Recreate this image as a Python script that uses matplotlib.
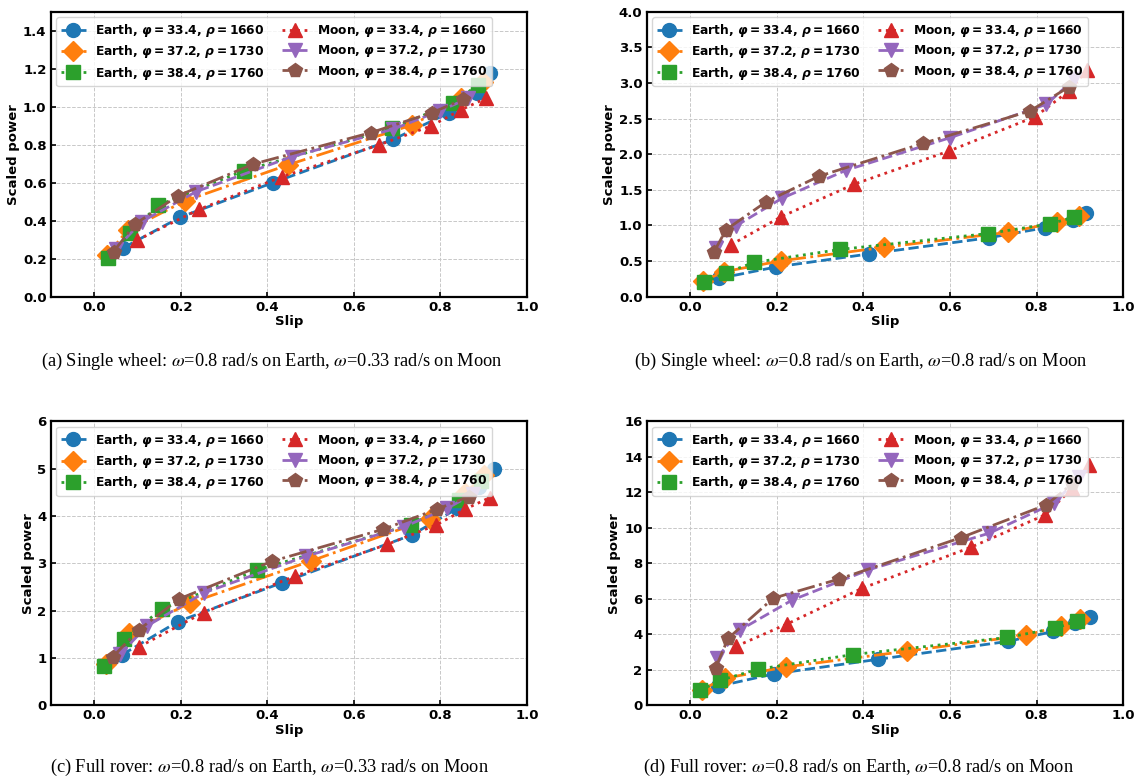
import matplotlib
matplotlib.use("Agg")
import matplotlib.pyplot as plt

plt.rcParams["font.family"] = ["DejaVu Sans"]
plt.rcParams["mathtext.fontset"] = "custom"
plt.rcParams["mathtext.rm"] = "DejaVu Sans:bold"
plt.rcParams["mathtext.it"] = "DejaVu Sans:italic:bold"
plt.rcParams["mathtext.bf"] = "DejaVu Sans:bold"

# ---- series labels / styles ----
series_names = [
    r"Earth, $\varphi = 33.4$, $\rho = 1660$",
    r"Earth, $\varphi = 37.2$, $\rho = 1730$",
    r"Earth, $\varphi = 38.4$, $\rho = 1760$",
    r"Moon, $\varphi = 33.4$, $\rho = 1660$",
    r"Moon, $\varphi = 37.2$, $\rho = 1730$",
    r"Moon, $\varphi = 38.4$, $\rho = 1760$",
]
colors = ["#1f77b4", "#ff7f0e", "#2ca02c", "#d62728", "#9467bd", "#8c564b"]
markers = ["o", "D", "s", "^", "v", "p"]
linestyles = ["--", "-.", ":", ":", "--", "-."]

# ---- single wheel, Earth (omega = 0.8 rad/s) ----
sw_earth334_slip = [0.068, 0.199, 0.413, 0.691, 0.820, 0.884, 0.915]
sw_earth334_pow = [0.258, 0.418, 0.600, 0.828, 0.968, 1.070, 1.176]
sw_earth372_slip = [0.030, 0.078, 0.210, 0.447, 0.735, 0.847, 0.897]
sw_earth372_pow = [0.220, 0.350, 0.504, 0.693, 0.904, 1.044, 1.132]
sw_earth384_slip = [0.033, 0.082, 0.148, 0.346, 0.688, 0.830, 0.886]
sw_earth384_pow = [0.202, 0.334, 0.481, 0.663, 0.886, 1.021, 1.114]

# ---- single wheel, Moon (omega = 0.33 rad/s) ----
sw_moon033_334_slip = [0.100, 0.243, 0.435, 0.657, 0.778, 0.847, 0.905]
sw_moon033_334_pow = [0.298, 0.460, 0.632, 0.798, 0.898, 0.983, 1.044]
sw_moon033_372_slip = [0.050, 0.110, 0.236, 0.457, 0.690, 0.800, 0.864]
sw_moon033_372_pow = [0.250, 0.395, 0.553, 0.737, 0.881, 0.979, 1.044]
sw_moon033_384_slip = [0.045, 0.095, 0.195, 0.368, 0.639, 0.780, 0.853]
sw_moon033_384_pow = [0.237, 0.383, 0.532, 0.698, 0.863, 0.968, 1.039]

# ---- single wheel, Moon (omega = 0.8 rad/s) ----
sw_moon08_334_slip = [0.095, 0.211, 0.379, 0.597, 0.797, 0.875, 0.917]
sw_moon08_334_pow = [0.730, 1.124, 1.579, 2.042, 2.526, 2.887, 3.183]
sw_moon08_372_slip = [0.060, 0.106, 0.212, 0.360, 0.600, 0.823, 0.887]
sw_moon08_372_pow = [0.683, 0.994, 1.380, 1.774, 2.230, 2.700, 3.050]
sw_moon08_384_slip = [0.055, 0.083, 0.176, 0.298, 0.537, 0.785, 0.876]
sw_moon08_384_pow = [0.623, 0.939, 1.333, 1.691, 2.150, 2.606, 2.948]

# ---- full rover, Earth (omega = 0.8 rad/s) ----
fr_earth334_slip = [0.065, 0.194, 0.434, 0.734, 0.839, 0.890, 0.923]
fr_earth334_pow = [1.07, 1.77, 2.59, 3.60, 4.16, 4.61, 5.00]
fr_earth372_slip = [0.027, 0.080, 0.221, 0.501, 0.775, 0.857, 0.901]
fr_earth372_pow = [0.88, 1.52, 2.16, 3.05, 3.94, 4.48, 4.86]
fr_earth384_slip = [0.024, 0.069, 0.156, 0.377, 0.732, 0.843, 0.894]
fr_earth384_pow = [0.84, 1.40, 2.03, 2.86, 3.82, 4.34, 4.75]

# ---- full rover, Moon (omega = 0.33 rad/s) ----
fr_moon033_334_slip = [0.105, 0.253, 0.464, 0.677, 0.790, 0.856, 0.914]
fr_moon033_334_pow = [1.24, 1.96, 2.73, 3.40, 3.81, 4.14, 4.39]
fr_moon033_372_slip = [0.060, 0.123, 0.255, 0.490, 0.715, 0.815, 0.876]
fr_moon033_372_pow = [1.08, 1.68, 2.38, 3.15, 3.77, 4.16, 4.47]
fr_moon033_384_slip = [0.044, 0.104, 0.197, 0.410, 0.668, 0.791, 0.865]
fr_moon033_384_pow = [1.03, 1.60, 2.25, 3.04, 3.72, 4.14, 4.41]

# ---- full rover, Moon (omega = 0.8 rad/s) ----
fr_moon08_334_slip = [0.107, 0.224, 0.397, 0.648, 0.820, 0.883, 0.922]
fr_moon08_334_pow = [3.33, 4.58, 6.59, 8.90, 10.73, 12.24, 13.52]
fr_moon08_372_slip = [0.063, 0.115, 0.236, 0.412, 0.691, 0.841, 0.898]
fr_moon08_372_pow = [2.69, 4.24, 5.93, 7.63, 9.70, 11.40, 12.86]
fr_moon08_384_slip = [0.059, 0.088, 0.192, 0.345, 0.626, 0.823, 0.883]
fr_moon08_384_pow = [2.11, 3.77, 6.03, 7.12, 9.45, 11.30, 12.50]

sw_earth = [(sw_earth334_slip, sw_earth334_pow),
            (sw_earth372_slip, sw_earth372_pow),
            (sw_earth384_slip, sw_earth384_pow)]
fr_earth = [(fr_earth334_slip, fr_earth334_pow),
            (fr_earth372_slip, fr_earth372_pow),
            (fr_earth384_slip, fr_earth384_pow)]

panels = [
    dict(rect=[0.0446, 0.6196, 0.4190, 0.3655], ylim=(0, 1.5),
         yticks=[0.0, 0.2, 0.4, 0.6, 0.8, 1.0, 1.2, 1.4], yfmt="{:.1f}",
         data=sw_earth + [(sw_moon033_334_slip, sw_moon033_334_pow),
                          (sw_moon033_372_slip, sw_moon033_372_pow),
                          (sw_moon033_384_slip, sw_moon033_384_pow)],
         caption=r"(a) Single wheel: $\omega$=0.8 rad/s on Earth, $\omega$=0.33 rad/s on Moon",
         cap_xy=(0.239, 0.536)),
    dict(rect=[0.5688, 0.6196, 0.4190, 0.3655], ylim=(0, 4.0),
         yticks=[0.0, 0.5, 1.0, 1.5, 2.0, 2.5, 3.0, 3.5, 4.0], yfmt="{:.1f}",
         data=sw_earth + [(sw_moon08_334_slip, sw_moon08_334_pow),
                          (sw_moon08_372_slip, sw_moon08_372_pow),
                          (sw_moon08_384_slip, sw_moon08_384_pow)],
         caption=r"(b) Single wheel: $\omega$=0.8 rad/s on Earth, $\omega$=0.8 rad/s on Moon",
         cap_xy=(0.757, 0.536)),
    dict(rect=[0.0446, 0.0958, 0.4190, 0.3640], ylim=(0, 6),
         yticks=[0, 1, 2, 3, 4, 5, 6], yfmt="{:d}",
         data=fr_earth + [(fr_moon033_334_slip, fr_moon033_334_pow),
                          (fr_moon033_372_slip, fr_moon033_372_pow),
                          (fr_moon033_384_slip, fr_moon033_384_pow)],
         caption=r"(c) Full rover: $\omega$=0.8 rad/s on Earth, $\omega$=0.33 rad/s on Moon",
         cap_xy=(0.237, 0.0155)),
    dict(rect=[0.5688, 0.0958, 0.4190, 0.3640], ylim=(0, 16),
         yticks=[0, 2, 4, 6, 8, 10, 12, 14, 16], yfmt="{:d}",
         data=fr_earth + [(fr_moon08_334_slip, fr_moon08_334_pow),
                          (fr_moon08_372_slip, fr_moon08_372_pow),
                          (fr_moon08_384_slip, fr_moon08_384_pow)],
         caption=r"(d) Full rover: $\omega$=0.8 rad/s on Earth, $\omega$=0.8 rad/s on Moon",
         cap_xy=(0.755, 0.0155)),
]

xticks = [0.0, 0.2, 0.4, 0.6, 0.8, 1.0]

fig = plt.figure(figsize=(11.37, 7.8), dpi=100)

for p in panels:
    ax = fig.add_axes(p["rect"])
    for (sx, sy), name, c, m, ls in zip(p["data"], series_names, colors, markers, linestyles):
        ax.plot(sx, sy, linestyle=ls, marker=m, color=c, label=name,
                linewidth=2.0, markersize=10)
    ax.set_xlim(-0.1, 1.0)
    ax.set_ylim(*p["ylim"])
    ax.set_xticks(xticks)
    ax.set_xticklabels(["{:.1f}".format(v) for v in xticks], fontweight="bold")
    ax.set_yticks(p["yticks"])
    ax.set_yticklabels([p["yfmt"].format(v) for v in p["yticks"]], fontweight="bold")
    ax.tick_params(direction="in", labelsize=9.5, width=1.2, length=3.5, pad=3)
    ax.grid(True, linestyle="--", color="#c8c8c8", linewidth=0.7)
    ax.set_axisbelow(True)
    for s in ax.spines.values():
        s.set_linewidth(1.6)
    ax.set_xlabel("Slip", fontsize=9.5, fontweight="bold", labelpad=1)
    ax.set_ylabel("Scaled power", fontsize=9.5, fontweight="bold", labelpad=2)
    ax.legend(loc="upper left", ncol=2, prop=dict(weight="bold", size=8.8),
              handlelength=2.0, columnspacing=1.4, labelspacing=0.35,
              borderpad=0.4, framealpha=0.8, edgecolor="#cccccc",
              handletextpad=0.8, borderaxespad=0.45)
    fig.text(p["cap_xy"][0], p["cap_xy"][1], p["caption"], ha="center", va="center",
             fontsize=13.2, family="Liberation Serif", fontweight="normal",
             math_fontfamily="stix")

fig.savefig("out.png", dpi=100)
